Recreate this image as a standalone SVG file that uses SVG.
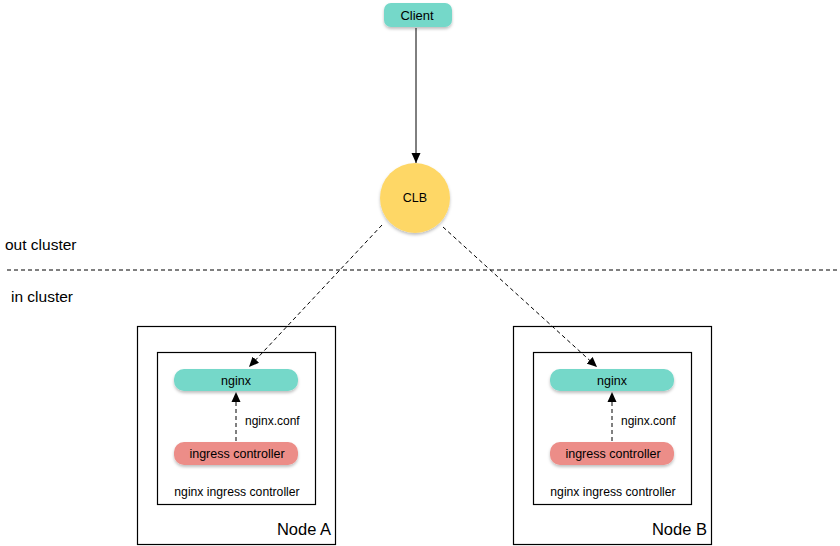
<svg xmlns="http://www.w3.org/2000/svg" width="840" height="546" viewBox="0 0 840 546">
<defs>
<style>
text{font-family:"Liberation Sans",Arial,sans-serif;fill:#000}
.box{fill:none;stroke:#000;stroke-width:1.2}
.teal{fill:#74d8c9}
.pink{fill:#ec8d88}
.dash{stroke:#000;stroke-width:1;stroke-dasharray:4 3;fill:none}
.solid{stroke:#000;stroke-width:1;fill:none}
</style>
<filter id="sh" x="-20%" y="-40%" width="140%" height="200%">
<feDropShadow dx="0" dy="2" stdDeviation="1.5" flood-color="#000" flood-opacity="0.25"/>
</filter>
<marker id="ah" viewBox="0 0 10 10" refX="10" refY="5" markerWidth="10" markerHeight="10" orient="auto" markerUnits="userSpaceOnUse">
<path d="M0,0.5 L10,5 L0,9.5 z" fill="#000"/>
</marker>
</defs>
<rect width="840" height="546" fill="#fff"/>

<text x="5" y="250" font-size="15.5">out cluster</text>
<line x1="7" y1="270" x2="840" y2="270" class="dash"/>
<text x="11" y="302" font-size="15.5">in cluster</text>

<g id="client">
<rect x="384" y="3" width="68" height="24" rx="7" class="teal" filter="url(#sh)"/>
<text x="417" y="19.5" font-size="13" text-anchor="middle">Client</text>
</g>

<g id="clb">
<circle cx="415" cy="198" r="35" fill="#fed766" filter="url(#sh)"/>
<text x="415" y="202" font-size="12.5" text-anchor="middle">CLB</text>
</g>

<g id="nodeA">
<rect x="137.5" y="326.5" width="198" height="218" class="box"/>
<text x="331" y="535" font-size="16.5" text-anchor="end">Node A</text>
<rect x="157.5" y="352.5" width="158" height="152" class="box"/>
<text x="237" y="496" font-size="12.2" text-anchor="middle">nginx ingress controller</text>
<g id="nginxA">
<rect x="174" y="369" width="124" height="22" rx="10" class="teal" filter="url(#sh)"/>
<text x="236" y="385" font-size="12.5" text-anchor="middle">nginx</text>
</g>
<g id="icA">
<rect x="174" y="442" width="124" height="23" rx="10" class="pink" filter="url(#sh)"/>
<text x="237" y="458" font-size="12.5" text-anchor="middle">ingress controller</text>
</g>
<text x="245" y="425" font-size="12">nginx.conf</text>
</g>

<g id="nodeB">
<rect x="513.5" y="326.5" width="198" height="218" class="box"/>
<text x="707" y="535" font-size="16.5" text-anchor="end">Node B</text>
<rect x="533.5" y="352.5" width="158" height="152" class="box"/>
<text x="613" y="496" font-size="12.2" text-anchor="middle">nginx ingress controller</text>
<g id="nginxB">
<rect x="550" y="369" width="124" height="22" rx="10" class="teal" filter="url(#sh)"/>
<text x="612" y="385" font-size="12.5" text-anchor="middle">nginx</text>
</g>
<g id="icB">
<rect x="550" y="442" width="124" height="23" rx="10" class="pink" filter="url(#sh)"/>
<text x="613" y="458" font-size="12.5" text-anchor="middle">ingress controller</text>
</g>
<text x="621" y="425" font-size="12">nginx.conf</text>
</g>

<g id="connectors">
<line x1="416" y1="28" x2="416" y2="163" class="solid" marker-end="url(#ah)"/>
<line x1="382" y1="225" x2="249" y2="367" class="dash" marker-end="url(#ah)"/>
<line x1="443" y1="227" x2="597" y2="367" class="dash" marker-end="url(#ah)"/>
<line x1="236" y1="441" x2="236" y2="392" class="dash" marker-end="url(#ah)"/>
<line x1="612" y1="441" x2="612" y2="392" class="dash" marker-end="url(#ah)"/>
</g>
</svg>
